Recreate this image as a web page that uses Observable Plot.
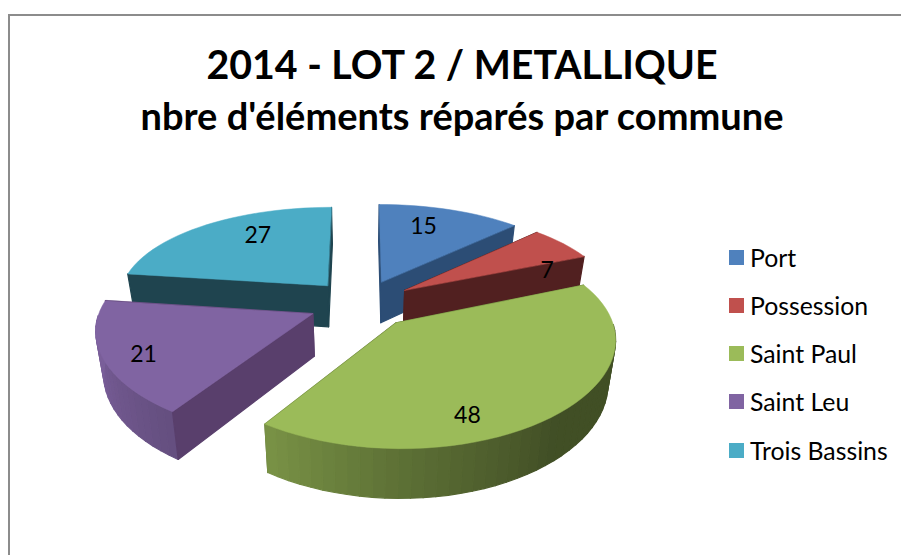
<!DOCTYPE html>
<html lang="fr">
<head>
<meta charset="utf-8">
<script src="https://cdn.jsdelivr.net/npm/d3@7"></script>
<script src="https://cdn.jsdelivr.net/npm/@observablehq/plot@0.6"></script>
<style>
  html, body { margin: 0; padding: 0; background: #fff; overflow: hidden; }
  body { width: 901px; height: 555px; position: relative; font-family: Lato, "Open Sans", sans-serif; color: #000; }
  #frame { position: absolute; left: 8px; top: 14px; width: 893px; height: 541px; box-sizing: border-box;
           border-left: 2px solid #8c8c8c; border-top: 2px solid #8c8c8c; }
  header { height: 164px; box-sizing: border-box; padding: 25px 0 0 13px; text-align: center; font-weight: 700; }
  header h1 { margin: 0; font-size: 39.3px; line-height: 46px; font-weight: 700; }
  header h2 { margin: 5px 0 0; font-size: 38px; line-height: 46px; font-weight: 700; }
  #row { display: flex; align-items: flex-start; }
  #row svg { display: block; flex: none; background: transparent; }
  #legend { margin: 0; padding: 53px 0 0 9px; list-style: none; font-size: 24.8px; }
  #legend li { height: 48.25px; display: flex; align-items: center; white-space: nowrap; }
  #legend i { width: 15px; height: 15px; margin-right: 6px; flex: none; }
</style>
</head>
<body>
<div id="frame">
  <header>
    <h1>2014 - LOT 2 / METALLIQUE</h1>
    <h2>nbre d'éléments réparés par commune</h2>
  </header>
  <div id="row"><div id="chart"></div><ul id="legend"></ul></div>
</div>
<script>
const communes = ["Port", "Possession", "Saint Paul", "Saint Leu", "Trois Bassins"];
const values = [15, 7, 48, 21, 27];
const topColors = ["#4f81bd", "#c0504d", "#9bbb59", "#8064a2", "#4bacc6"];
const cutWallColors = ["#2c4d75", "#512020", "#5f7236", "#593f6c", "#1f444f"];
// Nudges of each value label from the slice's mid-angle, as the original placed them
const labelTurn = [-4, 16, 20, -3, 9];
const labelReach = [0.72, 0.75, 0.82, 0.83, 0.71];

// Simple perspective camera of the tilted 3D pie; radius of the pie = 1
const PERSPECTIVE = 0.169, EXPLODE = 0.25, DEPTH = 0.432, TAPER = 0.07;
const project = (X, Y, z = 0) => {
  const w = 1 + PERSPECTIVE * Y;
  return {x: (X / Math.pow(w, 0.8)) * (1 - TAPER * z), y: Y / w - z / Math.pow(w, 0.75)};
};
const shadeAt = d3.scaleLinear().domain([140, 180, 213, 260]).range([0.42, 0.6, 0.78, 0.95]).clamp(true);
const shaded = (hex, f) => { const c = d3.rgb(hex); return d3.rgb(c.r * f, c.g * f, c.b * f).formatHex(); };

const slices = d3.pie().sort(null)(values).map((a, i) => {
  const mid = (a.startAngle + a.endAngle) / 2;
  const ox = EXPLODE * Math.sin(mid), oy = EXPLODE * Math.cos(mid);
  const at = (t, r = 1) => [ox + r * Math.sin(t), oy + r * Math.cos(t)];
  const n = Math.ceil((a.endAngle - a.startAngle) / (Math.PI / 60));
  const ts = d3.range(n + 1).map(k => a.startAngle + (a.endAngle - a.startAngle) * k / n);
  const top = [[ox, oy], ...ts.map(t => at(t))].map(([X, Y]) => ({commune: communes[i], ...project(X, Y)}));
  const walls = [];
  const quad = (id, p, q, shade) => {
    for (const [X, Y, z] of [[...p, 0], [...q, 0], [...q, DEPTH], [...p, DEPTH]])
      walls.push({id, shade, ...project(X, Y, z)});
  };
  // Cut faces that look away first, then the rim, then cut faces that look at the viewer
  const cuts = [
    {id: "a", t: a.startAngle, front: Math.cos(a.startAngle - Math.PI / 2) < -1e-6},
    {id: "b", t: a.endAngle, front: Math.cos(a.endAngle + Math.PI / 2) < -1e-6}
  ];
  const cut = c => quad(c.id, [ox, oy], at(c.t), cutWallColors[i]);
  cuts.filter(c => !c.front).forEach(cut);
  ts.slice(1).forEach((t, k) => {
    const m = (ts[k] + t) / 2;
    if (Math.cos(m) < 0) quad("o" + k, at(ts[k]), at(t), shaded(topColors[i], shadeAt(m * 180 / Math.PI)));
  });
  cuts.filter(c => c.front).forEach(cut);
  const lt = mid + labelTurn[i] * Math.PI / 180;
  const [LX, LY] = at(lt, labelReach[i]);
  return {i, oy, top, walls, label: {value: values[i], ...project(LX, LY)}};
});

// Back-to-front painting order
const painted = d3.sort(slices, d => -d.oy);

const W = 710, H = 375;
const xUnit = 211, yUnit = 97.2;          // pixels for one pie radius
const originX = 351, originY = 123;       // pie centre inside the svg
const chart = Plot.plot({
  width: W, height: H,
  marginTop: 0, marginRight: 0, marginBottom: 0, marginLeft: 0,
  x: {domain: [-originX / xUnit, (W - originX) / xUnit], range: [0, W], axis: null},
  y: {domain: [originY / yUnit, (originY - H) / yUnit], range: [0, H], axis: null},
  color: {domain: communes, range: topColors},
  marks: [
    ...painted.flatMap(s => [
      Plot.line(s.walls, {x: "x", y: "y", z: "id", fill: {value: "shade", scale: null}, stroke: {value: "shade", scale: null}, strokeWidth: 1.2, curve: "linear-closed"}),
      Plot.line(s.top, {x: "x", y: "y", fill: "commune", stroke: "commune", strokeWidth: 0.5, curve: "linear-closed"})
    ]),
    Plot.text(slices.map(s => s.label), {x: "x", y: "y", text: d => String(d.value), fontSize: 23, fontFamily: "Lato", fill: "#000"})
  ]
});
document.getElementById("chart").append(chart);

d3.select("#legend").selectAll("li").data(communes).join("li")
  .html((d, i) => `<i style="background:${topColors[i]}"></i>${d}`);
</script>
</body>
</html>
